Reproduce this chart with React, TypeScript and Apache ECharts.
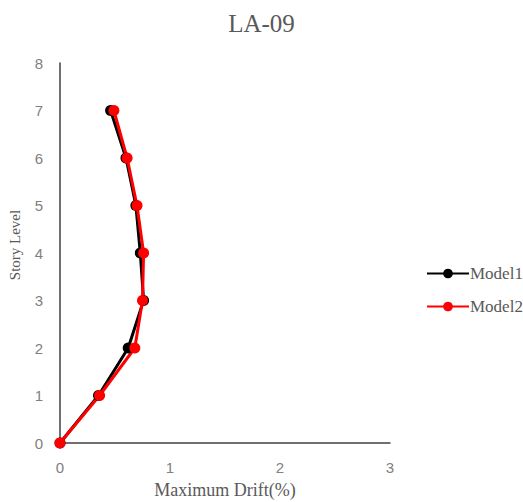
import React, { useEffect, useRef } from "react";
import * as echarts from "echarts";

const storyLevels = [0, 1, 2, 3, 4, 5, 6, 7];
const model1Drift = [0, 0.35, 0.62, 0.76, 0.73, 0.69, 0.6, 0.46];
const model2Drift = [0, 0.36, 0.68, 0.75, 0.76, 0.7, 0.61, 0.49];
const seriesNames = ["Model1", "Model2"];
const titleText = "LA-09";
const xAxisName = "Maximum Drift(%)";
const yAxisName = "Story Level";

const SERIF = "Liberation Serif";
const SANS = "Liberation Sans";

export default function App() {
  const ref = useRef<HTMLDivElement>(null);
  useEffect(() => {
    if (!ref.current) return;
    const chart = echarts.init(ref.current, null, { renderer: "svg" });
    const mk = (xs: number[]) => xs.map((x, i) => [x, storyLevels[i]]);
    chart.setOption({
      animation: false,
      backgroundColor: "#fff",
      textStyle: { fontFamily: SERIF },
      title: {
        text: titleText,
        left: "center",
        top: 6,
        textStyle: { fontFamily: SERIF, fontSize: 25, fontWeight: "normal", color: "#595959" },
      },
      legend: {
        orient: "vertical",
        left: 421,
        top: 260,
        itemGap: 16,
        itemWidth: 42,
        itemHeight: 12,
        textStyle: { fontFamily: SERIF, fontSize: 17, color: "#595959", padding: [0, 0, 0, -4] },
        data: seriesNames,
      },
      grid: {
        left: 60,
        top: 63,
        right: 133,
        bottom: 59,
        containLabel: false,
        outerBoundsMode: "none",
      },
      xAxis: {
        type: "value",
        min: 0,
        max: 3,
        interval: 1,
        name: xAxisName,
        nameLocation: "middle",
        nameGap: 38,
        nameTextStyle: { fontFamily: SERIF, fontSize: 18, color: "#595959" },
        axisLine: { show: true, lineStyle: { color: "#404040", width: 1.5 } },
        axisTick: { show: false },
        splitLine: { show: false },
        axisLabel: { fontFamily: SANS, fontSize: 15, color: "#808080", margin: 17 },
      },
      yAxis: {
        type: "value",
        min: 0,
        max: 8,
        interval: 1,
        name: yAxisName,
        nameLocation: "middle",
        nameGap: 38,
        nameTextStyle: { fontFamily: SERIF, fontSize: 15, color: "#595959", padding: [0, 0, 0, 16] },
        axisLine: { show: true, lineStyle: { color: "#404040", width: 1.5 } },
        axisTick: { show: false },
        splitLine: { show: false },
        axisLabel: { fontFamily: SANS, fontSize: 15, color: "#808080", margin: 17 },
      },
      series: [
        {
          name: seriesNames[0],
          type: "line",
          data: mk(model1Drift),
          symbol: "circle",
          symbolSize: 11,
          lineStyle: { color: "#000", width: 3 },
          itemStyle: { color: "#000" },
        },
        {
          name: seriesNames[1],
          type: "line",
          data: mk(model2Drift),
          symbol: "circle",
          symbolSize: 11,
          lineStyle: { color: "#ff0000", width: 3 },
          itemStyle: { color: "#ff0000" },
        },
      ],
    });
    return () => chart.dispose();
  }, []);
  return <div ref={ref} style={{ width: 523, height: 502, position: "absolute", left: 0, top: 0 }} />;
}
